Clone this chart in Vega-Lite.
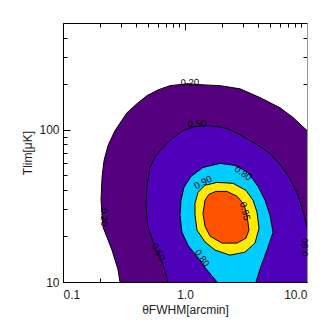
{
  "$schema": "https://vega.github.io/schema/vega-lite/v6.json",
  "width": 244,
  "height": 259,
  "autosize": {"type": "none"},
  "padding": {"left": 63, "top": 23, "right": 20, "bottom": 45},
  "background": "white",
  "config": {
    "view": {"stroke": null},
    "axis": {"labelFont": "Liberation Sans", "titleFont": "Liberation Sans", "labelFontSize": 12, "titleFontSize": 12, "labelColor": "#222", "titleColor": "#222", "titleFontWeight": "normal", "domainColor": "black", "tickColor": "black", "grid": false, "zindex": 1, "labelOverlap": false, "labelBound": false}
  },
  "datasets": {
    "contours": [
      {"level": "0.20", "i": 1, "x": 0.30, "y": 9},
      {"level": "0.20", "i": 2, "x": 0.293, "y": 10},
      {"level": "0.20", "i": 3, "x": 0.283, "y": 12.0},
      {"level": "0.20", "i": 4, "x": 0.252, "y": 16.2},
      {"level": "0.20", "i": 5, "x": 0.213, "y": 22.9},
      {"level": "0.20", "i": 6, "x": 0.205, "y": 34.4},
      {"level": "0.20", "i": 7, "x": 0.209, "y": 48.6},
      {"level": "0.20", "i": 8, "x": 0.217, "y": 62.7},
      {"level": "0.20", "i": 9, "x": 0.234, "y": 78.6},
      {"level": "0.20", "i": 10, "x": 0.267, "y": 98.4},
      {"level": "0.20", "i": 11, "x": 0.335, "y": 129},
      {"level": "0.20", "i": 12, "x": 0.405, "y": 148},
      {"level": "0.20", "i": 13, "x": 0.489, "y": 167},
      {"level": "0.20", "i": 14, "x": 0.601, "y": 182},
      {"level": "0.20", "i": 15, "x": 0.753, "y": 194},
      {"level": "0.20", "i": 16, "x": 1.058, "y": 200},
      {"level": "0.20", "i": 17, "x": 1.327, "y": 197},
      {"level": "0.20", "i": 18, "x": 1.94, "y": 194},
      {"level": "0.20", "i": 19, "x": 2.824, "y": 185},
      {"level": "0.20", "i": 20, "x": 4.119, "y": 162},
      {"level": "0.20", "i": 21, "x": 6.007, "y": 139},
      {"level": "0.20", "i": 22, "x": 7.68, "y": 120},
      {"level": "0.20", "i": 23, "x": 10, "y": 98.5},
      {"level": "0.20", "i": 24, "x": 11, "y": 90},
      {"level": "0.20", "i": 25, "x": 11, "y": 9},
      {"level": "0.50", "i": 1, "x": 0.74, "y": 9},
      {"level": "0.50", "i": 2, "x": 0.726, "y": 10},
      {"level": "0.50", "i": 3, "x": 0.660, "y": 13.1},
      {"level": "0.50", "i": 4, "x": 0.568, "y": 16.9},
      {"level": "0.50", "i": 5, "x": 0.497, "y": 22.9},
      {"level": "0.50", "i": 6, "x": 0.479, "y": 31.9},
      {"level": "0.50", "i": 7, "x": 0.488, "y": 43.1},
      {"level": "0.50", "i": 8, "x": 0.517, "y": 56.4},
      {"level": "0.50", "i": 9, "x": 0.578, "y": 67.6},
      {"level": "0.50", "i": 10, "x": 0.660, "y": 76.3},
      {"level": "0.50", "i": 11, "x": 0.782, "y": 87.3},
      {"level": "0.50", "i": 12, "x": 0.963, "y": 98.5},
      {"level": "0.50", "i": 13, "x": 1.208, "y": 104.6},
      {"level": "0.50", "i": 14, "x": 1.514, "y": 106.2},
      {"level": "0.50", "i": 15, "x": 1.829, "y": 104.6},
      {"level": "0.50", "i": 16, "x": 2.210, "y": 101.5},
      {"level": "0.50", "i": 17, "x": 2.719, "y": 94.2},
      {"level": "0.50", "i": 18, "x": 3.410, "y": 84.8},
      {"level": "0.50", "i": 19, "x": 4.119, "y": 77.4},
      {"level": "0.50", "i": 20, "x": 4.974, "y": 69.7},
      {"level": "0.50", "i": 21, "x": 6.007, "y": 59.1},
      {"level": "0.50", "i": 22, "x": 7.257, "y": 47.8},
      {"level": "0.50", "i": 23, "x": 8.436, "y": 37.0},
      {"level": "0.50", "i": 24, "x": 9.273, "y": 29.1},
      {"level": "0.50", "i": 25, "x": 10, "y": 22.9},
      {"level": "0.50", "i": 26, "x": 11, "y": 20.3},
      {"level": "0.50", "i": 27, "x": 11, "y": 9},
      {"level": "0.80", "i": 1, "x": 1.87, "y": 9},
      {"level": "0.80", "i": 2, "x": 1.829, "y": 10},
      {"level": "0.80", "i": 3, "x": 1.514, "y": 12.0},
      {"level": "0.80", "i": 4, "x": 1.278, "y": 14.35},
      {"level": "0.80", "i": 5, "x": 1.058, "y": 17.45},
      {"level": "0.80", "i": 6, "x": 0.944, "y": 21.2},
      {"level": "0.80", "i": 7, "x": 0.910, "y": 27.4},
      {"level": "0.80", "i": 8, "x": 0.927, "y": 34.4},
      {"level": "0.80", "i": 9, "x": 0.981, "y": 41.8},
      {"level": "0.80", "i": 10, "x": 1.120, "y": 49.3},
      {"level": "0.80", "i": 11, "x": 1.404, "y": 56.4},
      {"level": "0.80", "i": 12, "x": 1.94, "y": 60.0},
      {"level": "0.80", "i": 13, "x": 2.57, "y": 58.2},
      {"level": "0.80", "i": 14, "x": 3.284, "y": 52.4},
      {"level": "0.80", "i": 15, "x": 3.966, "y": 42.4},
      {"level": "0.80", "i": 16, "x": 4.53, "y": 34.4},
      {"level": "0.80", "i": 17, "x": 4.974, "y": 27.4},
      {"level": "0.80", "i": 18, "x": 5.264, "y": 21.2},
      {"level": "0.80", "i": 19, "x": 4.700, "y": 16.2},
      {"level": "0.80", "i": 20, "x": 4.198, "y": 12.7},
      {"level": "0.80", "i": 21, "x": 3.819, "y": 10},
      {"level": "0.80", "i": 22, "x": 3.74, "y": 9},
      {"level": "0.90", "i": 1, "x": 1.829, "y": 45.0},
      {"level": "0.90", "i": 2, "x": 1.46, "y": 43.1},
      {"level": "0.90", "i": 3, "x": 1.278, "y": 38.7},
      {"level": "0.90", "i": 4, "x": 1.208, "y": 32.8},
      {"level": "0.90", "i": 5, "x": 1.208, "y": 27.4},
      {"level": "0.90", "i": 6, "x": 1.254, "y": 21.9},
      {"level": "0.90", "i": 7, "x": 1.46, "y": 18.3},
      {"level": "0.90", "i": 8, "x": 1.762, "y": 16.2},
      {"level": "0.90", "i": 9, "x": 2.338, "y": 15.0},
      {"level": "0.90", "i": 10, "x": 3.102, "y": 15.7},
      {"level": "0.90", "i": 11, "x": 3.747, "y": 18.0},
      {"level": "0.90", "i": 12, "x": 4.043, "y": 22.5},
      {"level": "0.90", "i": 13, "x": 3.893, "y": 28.7},
      {"level": "0.90", "i": 14, "x": 3.609, "y": 34.4},
      {"level": "0.90", "i": 15, "x": 3.162, "y": 39.9},
      {"level": "0.90", "i": 16, "x": 2.474, "y": 44.4},
      {"level": "0.95", "i": 1, "x": 1.46, "y": 34.4},
      {"level": "0.95", "i": 2, "x": 1.573, "y": 37.6},
      {"level": "0.95", "i": 3, "x": 1.795, "y": 39.3},
      {"level": "0.95", "i": 4, "x": 2.210, "y": 39.3},
      {"level": "0.95", "i": 5, "x": 2.668, "y": 36.5},
      {"level": "0.95", "i": 6, "x": 3.044, "y": 32.3},
      {"level": "0.95", "i": 7, "x": 3.222, "y": 27.4},
      {"level": "0.95", "i": 8, "x": 3.346, "y": 21.9},
      {"level": "0.95", "i": 9, "x": 3.162, "y": 19.4},
      {"level": "0.95", "i": 10, "x": 2.668, "y": 18.0},
      {"level": "0.95", "i": 11, "x": 2.011, "y": 18.0},
      {"level": "0.95", "i": 12, "x": 1.603, "y": 20.0},
      {"level": "0.95", "i": 13, "x": 1.46, "y": 23.2},
      {"level": "0.95", "i": 14, "x": 1.404, "y": 28.2}
    ],
    "labels": [
      {"id": 1, "label": "0.20", "x": 1.099, "y": 203},
      {"id": 2, "label": "0.50", "x": 1.254, "y": 109},
      {"id": 3, "label": "0.80", "x": 2.99, "y": 51.6},
      {"id": 4, "label": "0.90", "x": 1.404, "y": 45.0},
      {"id": 5, "label": "0.95", "x": 3.10, "y": 29.1},
      {"id": 6, "label": "0.80", "x": 1.378, "y": 14.35},
      {"id": 7, "label": "0.50", "x": 0.601, "y": 15.7},
      {"id": 8, "label": "0.20", "x": 0.217, "y": 26.6},
      {"id": 9, "label": "0.50", "x": 9.63, "y": 16.9}
    ]
  },
  "resolve": {"axis": {"x": "independent", "y": "independent"}},
  "layer": [
    {
      "data": {"name": "contours"},
      "transform": [{"filter": "datum.level == '0.20'"}],
      "mark": {"type": "line", "interpolate": "linear-closed", "fill": "#55007f", "stroke": "black", "strokeWidth": 1, "clip": true},
      "encoding": {
        "x": {"field": "x", "type": "quantitative", "scale": {"type": "log", "domain": [0.1, 10], "nice": false},
          "axis": {"orient": "bottom", "values": [0.1,0.2,0.3,0.4,0.5,0.6,0.7,0.8,0.9,1,2,3,4,5,6,7,8,9,10],
            "labelExpr": "datum.value == 0.1 ? '0.1' : datum.value == 1 ? '1.0' : datum.value == 10 ? '10.0' : ''",
            "tickSize": {"condition": {"test": "datum.value == 0.1 || datum.value == 1 || datum.value == 10", "value": -7}, "value": -4},
            "labelPadding": 14, "title": "θFWHM[arcmin]", "titlePadding": 1}},
        "y": {"field": "y", "type": "quantitative", "scale": {"type": "log", "domain": [10, 500], "nice": false},
          "axis": {"orient": "left", "values": [10,20,30,40,50,60,70,80,90,100,200,300,400],
            "labelExpr": "datum.value == 10 ? '10' : datum.value == 100 ? '100' : ''",
            "tickSize": {"condition": {"test": "datum.value == 10 || datum.value == 100", "value": -7}, "value": -4},
            "labelPadding": 11, "title": "Tlim[μK]", "titlePadding": 4}},
        "order": {"field": "i", "type": "quantitative"}
      }
    },
    {
      "data": {"name": "contours"},
      "transform": [{"filter": "datum.level == '0.50'"}],
      "mark": {"type": "line", "interpolate": "linear-closed", "fill": "#4f00b9", "stroke": "black", "strokeWidth": 1, "clip": true},
      "encoding": {
        "x": {"field": "x", "type": "quantitative", "scale": {"type": "log", "domain": [0.1, 10], "nice": false},
          "axis": {"orient": "top", "values": [0.1,0.2,0.3,0.4,0.5,0.6,0.7,0.8,0.9,1,2,3,4,5,6,7,8,9,10], "labels": false, "title": null,
            "tickSize": {"condition": {"test": "datum.value == 0.1 || datum.value == 1 || datum.value == 10", "value": -7}, "value": -4}}},
        "y": {"field": "y", "type": "quantitative", "scale": {"type": "log", "domain": [10, 500], "nice": false},
          "axis": {"orient": "right", "values": [10,20,30,40,50,60,70,80,90,100,200,300,400], "labels": false, "title": null, "domainColor": "#999",
            "tickSize": {"condition": {"test": "datum.value == 10 || datum.value == 100", "value": -7}, "value": -4}}},
        "order": {"field": "i", "type": "quantitative"}
      }
    },
    {
      "data": {"name": "contours"},
      "transform": [{"filter": "datum.level == '0.80'"}],
      "mark": {"type": "line", "interpolate": "linear-closed", "fill": "#00ccff", "stroke": "black", "strokeWidth": 1, "clip": true},
      "encoding": {
        "x": {"field": "x", "type": "quantitative", "scale": {"type": "log", "domain": [0.1, 10], "nice": false}, "axis": null},
        "y": {"field": "y", "type": "quantitative", "scale": {"type": "log", "domain": [10, 500], "nice": false}, "axis": null},
        "order": {"field": "i", "type": "quantitative"}
      }
    },
    {
      "data": {"name": "contours"},
      "transform": [{"filter": "datum.level == '0.90'"}],
      "mark": {"type": "line", "interpolate": "linear-closed", "fill": "#ffea00", "stroke": "black", "strokeWidth": 1, "clip": true},
      "encoding": {
        "x": {"field": "x", "type": "quantitative", "scale": {"type": "log", "domain": [0.1, 10], "nice": false}, "axis": null},
        "y": {"field": "y", "type": "quantitative", "scale": {"type": "log", "domain": [10, 500], "nice": false}, "axis": null},
        "order": {"field": "i", "type": "quantitative"}
      }
    },
    {
      "data": {"name": "contours"},
      "transform": [{"filter": "datum.level == '0.95'"}],
      "mark": {"type": "line", "interpolate": "linear-closed", "fill": "#ff5200", "stroke": "black", "strokeWidth": 1, "clip": true},
      "encoding": {
        "x": {"field": "x", "type": "quantitative", "scale": {"type": "log", "domain": [0.1, 10], "nice": false}, "axis": null},
        "y": {"field": "y", "type": "quantitative", "scale": {"type": "log", "domain": [10, 500], "nice": false}, "axis": null},
        "order": {"field": "i", "type": "quantitative"}
      }
    },
    {"data": {"name": "labels"}, "transform": [{"filter": "datum.id == 1"}],
      "mark": {"type": "text", "angle": -2, "font": "Liberation Sans", "fontSize": 9.5, "color": "black"},
      "encoding": {"x": {"field": "x", "type": "quantitative", "scale": {"type": "log", "domain": [0.1, 10], "nice": false}, "axis": null},
        "y": {"field": "y", "type": "quantitative", "scale": {"type": "log", "domain": [10, 500], "nice": false}, "axis": null},
        "text": {"field": "label"}}},
    {"data": {"name": "labels"}, "transform": [{"filter": "datum.id == 2"}],
      "mark": {"type": "text", "angle": -2, "font": "Liberation Sans", "fontSize": 9.5, "color": "black"},
      "encoding": {"x": {"field": "x", "type": "quantitative", "scale": {"type": "log", "domain": [0.1, 10], "nice": false}, "axis": null},
        "y": {"field": "y", "type": "quantitative", "scale": {"type": "log", "domain": [10, 500], "nice": false}, "axis": null},
        "text": {"field": "label"}}},
    {"data": {"name": "labels"}, "transform": [{"filter": "datum.id == 3"}],
      "mark": {"type": "text", "angle": 35, "font": "Liberation Sans", "fontSize": 9.5, "color": "black"},
      "encoding": {"x": {"field": "x", "type": "quantitative", "scale": {"type": "log", "domain": [0.1, 10], "nice": false}, "axis": null},
        "y": {"field": "y", "type": "quantitative", "scale": {"type": "log", "domain": [10, 500], "nice": false}, "axis": null},
        "text": {"field": "label"}}},
    {"data": {"name": "labels"}, "transform": [{"filter": "datum.id == 4"}],
      "mark": {"type": "text", "angle": -28, "font": "Liberation Sans", "fontSize": 9.5, "color": "black"},
      "encoding": {"x": {"field": "x", "type": "quantitative", "scale": {"type": "log", "domain": [0.1, 10], "nice": false}, "axis": null},
        "y": {"field": "y", "type": "quantitative", "scale": {"type": "log", "domain": [10, 500], "nice": false}, "axis": null},
        "text": {"field": "label"}}},
    {"data": {"name": "labels"}, "transform": [{"filter": "datum.id == 5"}],
      "mark": {"type": "text", "angle": 75, "font": "Liberation Sans", "fontSize": 9.5, "color": "black"},
      "encoding": {"x": {"field": "x", "type": "quantitative", "scale": {"type": "log", "domain": [0.1, 10], "nice": false}, "axis": null},
        "y": {"field": "y", "type": "quantitative", "scale": {"type": "log", "domain": [10, 500], "nice": false}, "axis": null},
        "text": {"field": "label"}}},
    {"data": {"name": "labels"}, "transform": [{"filter": "datum.id == 6"}],
      "mark": {"type": "text", "angle": 55, "font": "Liberation Sans", "fontSize": 9.5, "color": "black"},
      "encoding": {"x": {"field": "x", "type": "quantitative", "scale": {"type": "log", "domain": [0.1, 10], "nice": false}, "axis": null},
        "y": {"field": "y", "type": "quantitative", "scale": {"type": "log", "domain": [10, 500], "nice": false}, "axis": null},
        "text": {"field": "label"}}},
    {"data": {"name": "labels"}, "transform": [{"filter": "datum.id == 7"}],
      "mark": {"type": "text", "angle": 62, "font": "Liberation Sans", "fontSize": 9.5, "color": "black"},
      "encoding": {"x": {"field": "x", "type": "quantitative", "scale": {"type": "log", "domain": [0.1, 10], "nice": false}, "axis": null},
        "y": {"field": "y", "type": "quantitative", "scale": {"type": "log", "domain": [10, 500], "nice": false}, "axis": null},
        "text": {"field": "label"}}},
    {"data": {"name": "labels"}, "transform": [{"filter": "datum.id == 8"}],
      "mark": {"type": "text", "angle": 92, "font": "Liberation Sans", "fontSize": 9.5, "color": "black"},
      "encoding": {"x": {"field": "x", "type": "quantitative", "scale": {"type": "log", "domain": [0.1, 10], "nice": false}, "axis": null},
        "y": {"field": "y", "type": "quantitative", "scale": {"type": "log", "domain": [10, 500], "nice": false}, "axis": null},
        "text": {"field": "label"}}},
    {"data": {"name": "labels"}, "transform": [{"filter": "datum.id == 9"}],
      "mark": {"type": "text", "angle": 270, "font": "Liberation Sans", "fontSize": 9.5, "color": "black"},
      "encoding": {"x": {"field": "x", "type": "quantitative", "scale": {"type": "log", "domain": [0.1, 10], "nice": false}, "axis": null},
        "y": {"field": "y", "type": "quantitative", "scale": {"type": "log", "domain": [10, 500], "nice": false}, "axis": null},
        "text": {"field": "label"}}}
  ]
}
